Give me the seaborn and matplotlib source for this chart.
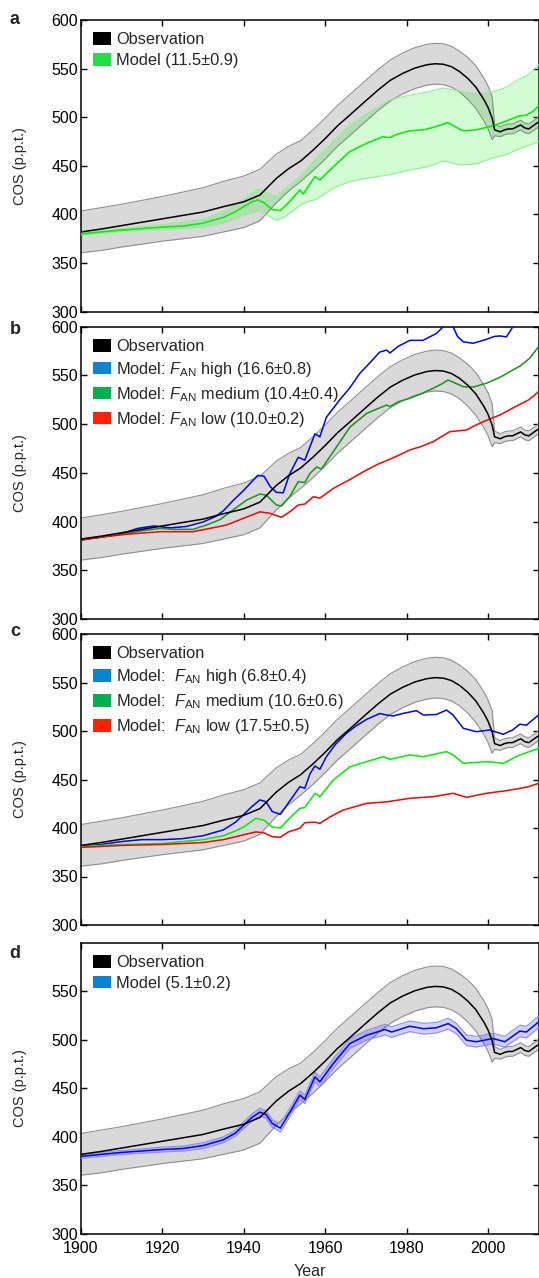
import numpy as np
import matplotlib
matplotlib.use('Agg')
import matplotlib.pyplot as plt
import seaborn as sns
from matplotlib.patches import Patch

# ---------------- data ----------------
xticks = [1900, 1920, 1940, 1960, 1980, 2000]
yticks_full = [300, 350, 400, 450, 500, 550, 600]
yticks_d = [300, 350, 400, 450, 500, 550]

# Observation (same in all panels), centre and half-width of grey band
obs_years = [1900, 1905, 1910, 1915, 1920, 1925, 1930, 1935, 1940, 1944,
             1948, 1951, 1954, 1957, 1960, 1963, 1966, 1970, 1973, 1976,
             1979, 1982, 1985, 1987, 1989, 1991, 1993, 1995, 1997, 1999,
             2000, 2001, 2001.6, 2003, 2004, 2005, 2006, 2007, 2008, 2009,
             2010, 2011, 2012, 2013]
obs_val = [382, 385, 388.5, 392, 395.5, 399, 402.5, 408, 413, 420,
           437, 447, 455, 466, 478, 491, 502, 517, 528, 538,
           545, 550.5, 554, 555, 554.5, 552, 547, 540, 531, 518,
           510, 499, 487, 485, 487, 488, 488, 490, 492, 489,
           488, 491, 494, 496]
obs_err = [21.5, 22, 22, 22.5, 23, 24, 25, 26, 26.5, 26.5,
           25, 23, 21, 21, 21, 21, 21, 21, 21, 21,
           21, 21, 21, 21, 21, 21, 21, 21.5, 22, 22,
           22, 22, 6, 5, 5, 5, 5, 5, 5, 5,
           5, 5, 5, 5]

# Panel a: model
a_years = [1900, 1910, 1920, 1925, 1930, 1935, 1938, 1940, 1942, 1943.5,
           1945, 1947, 1949, 1951, 1953.8, 1954.6, 1957.5, 1958.7, 1962, 1966,
           1970.1, 1974.2, 1975.8, 1978, 1980.7, 1984, 1986.5, 1990.1, 1992, 1993.8,
           1997, 2001.1, 2004.4, 2007.6, 2009.3, 2011, 2012.4]
a_model = [380, 384, 387, 388, 391, 397, 403, 408, 413, 415,
           412, 405, 404, 412, 425.2, 421, 439, 435.5, 449, 464.6,
           473, 480, 479, 483, 486, 487, 489.5, 494.5, 490, 486,
           487, 491, 496, 501.3, 502, 506, 511.6]
a_band_years = [1900, 1910, 1920, 1930, 1935, 1940, 1943.5, 1945, 1948, 1950,
                1954, 1955, 1958, 1962, 1966, 1970, 1976, 1980, 1985, 1989,
                1993, 1997, 2001, 2004, 2008, 2010, 2012.5]
a_band_hi = [381, 385.5, 389.5, 395, 403, 416, 426, 424, 418, 425,
             440, 444, 459, 475, 492, 503, 518, 522, 526, 530,
             527, 524, 526, 530, 540, 544, 554]
a_band_lo = [379, 382.5, 384.5, 387, 391, 399, 404, 401, 394, 397,
             410, 412, 416, 427, 434, 437, 441, 445, 449, 455,
             451, 452, 458, 461, 468, 471, 475]

# Panel b
b_high_years = [1900, 1905, 1910, 1914, 1918, 1922, 1926, 1930, 1933, 1935,
                1937.5, 1940, 1942, 1943.5, 1945, 1946.5, 1948, 1949.7, 1951.3, 1953.4,
                1955, 1957.5, 1958.7, 1960.3, 1963.6, 1966, 1968.5, 1971, 1973.4, 1975.1,
                1975.9, 1978, 1980.8, 1984, 1987.3, 1989, 1990.2, 1991.5, 1992.5, 1993.9,
                1996.3, 1998, 1999.6, 2001.5, 2002.9, 2004.5, 2006.1, 2008, 2010, 2012.4]
b_high = [381, 384, 387.5, 393, 395.5, 393.5, 395, 399.5, 405, 411,
          422, 432, 441, 447.5, 446.5, 436, 430, 429.5, 449, 466,
          463, 490, 487, 507, 525, 537, 552, 563, 574, 576,
          573, 580, 586, 586, 593, 600, 603, 599, 590, 584.5,
          583, 585, 587, 590, 590.5, 589.5, 600, 608, 615, 622]
b_med_years = [1900, 1905, 1910, 1915, 1919.5, 1923, 1927.6, 1930.9, 1934.2, 1937.4,
               1940.7, 1944, 1945.6, 1948, 1949.3, 1951.3, 1953.4, 1955, 1956.3, 1957.9,
               1959.1, 1962, 1966.1, 1970.2, 1973, 1975.1, 1975.9, 1978, 1980.8, 1983.5,
               1986.5, 1988.5, 1990.2, 1992, 1993.9, 1996.3, 1999.6, 2002.9, 2006.1, 2008,
               2010.2, 2012.4]
b_med = [382, 384, 387, 390.5, 393, 392, 392, 396.5, 402, 412,
         422, 428.3, 427, 417, 416, 425.5, 441, 440, 449.5, 456,
         454, 471.7, 497, 511, 516, 519.6, 518, 523, 526.5, 531,
         536.8, 541, 545.3, 542, 538.4, 538, 542, 548, 555.6, 560,
         567.6, 579.5]
b_low_years = [1900, 1905, 1911.3, 1919.5, 1927.6, 1931.7, 1935.8, 1940, 1944, 1946.4,
               1949.3, 1951.3, 1953.4, 1955, 1957.1, 1958.7, 1962, 1966, 1970.2, 1973,
               1975.9, 1978, 1980.8, 1983.5, 1986.5, 1988.5, 1990.6, 1994.7, 1996.5, 1998.8,
               2002.9, 2007, 2010, 2012.4]
b_low = [381, 384, 387, 389.6, 389.6, 393, 396.5, 403.4, 410, 408.5,
         404.4, 410, 417, 418, 425.5, 424, 434, 443, 453, 459,
         464, 468, 473.5, 477, 482, 487, 492.3, 494, 498, 502.5,
         509.4, 518.6, 525, 533.3]

# Panel c
c_high_years = [1900, 1905, 1910, 1915, 1920, 1925, 1930, 1935, 1938, 1940,
                1942, 1944, 1945.5, 1947, 1949, 1951, 1953.8, 1955, 1956.3, 1957.5,
                1958.7, 1960.3, 1962.5, 1965.2, 1967.5, 1970.2, 1973.4, 1975.1, 1976.7, 1979,
                1982.4, 1984.1, 1987.3, 1989.8, 1991.4, 1993.9, 1997.1, 2000.4, 2003.7, 2006,
                2007.8, 2009.4, 2012.4]
c_high = [381, 383, 386, 388, 388, 389, 392, 398, 406, 414,
          422, 429, 427, 417, 414, 426, 442.6, 441, 456, 464,
          460.5, 473.5, 486, 497.6, 505, 512, 518, 516.5, 515.5, 518,
          521, 516.5, 517, 521.6, 516.5, 502.8, 499.3, 501, 496.6, 501,
          507, 506, 516.5]
c_med_years = [1900, 1910, 1920, 1930, 1935, 1938, 1940, 1943, 1945, 1947,
               1949, 1951, 1953.8, 1955, 1957.5, 1958.7, 1962, 1966.1, 1970.2, 1974.2,
               1975.9, 1980.8, 1984, 1989.8, 1991.5, 1993.9, 1999.6, 2003.7, 2007.8, 2012.4]
c_med = [381, 383, 384, 388, 392, 397, 401, 410, 408, 401,
         400, 409, 420.3, 421, 435.8, 432.3, 449.5, 463.2, 468.4, 473.5,
         470.8, 475.3, 473.5, 478.7, 475, 466.7, 468.4, 466.7, 475.3, 482]
c_low_years = [1900, 1910, 1920, 1930, 1935, 1940, 1943, 1945, 1947, 1949,
               1951, 1953.8, 1955, 1957.5, 1958.7, 1961, 1964.4, 1970.2, 1975.1, 1980.8,
               1986.5, 1991.4, 1994.7, 1999.6, 2004.5, 2009.4, 2012.4]
c_low = [380, 382, 383, 385, 388, 393, 396, 395, 391, 390.5,
         396, 399.7, 405.5, 406, 404.8, 411, 418.5, 425.4, 427, 430.6,
         432.3, 435.8, 431.6, 435.8, 438.5, 442, 446]

# Panel d
d_years = [1900, 1910, 1920, 1925, 1930, 1935, 1938, 1940, 1942, 1944,
           1945.5, 1947, 1949, 1951, 1953.8, 1955, 1957.5, 1958.7, 1962, 1966.1,
           1970.2, 1974.7, 1976.3, 1980.8, 1984.1, 1987.3, 1990.2, 1992.2, 1994.7, 1997.1,
           2001.2, 2004.1, 2007.8, 2009.4, 2012.4]
d_model = [380, 384, 387, 388, 391, 397, 404, 412, 420, 425.5,
           423, 414, 409, 423, 443, 438.6, 461.8, 456.7, 475.6, 496.2,
           504.7, 510.6, 508, 514, 511.4, 512.4, 516.7, 511.6, 499.6, 498,
           501.3, 498, 509, 508, 518.4]
d_err = [2, 2, 2.5, 2.5, 3, 3, 3, 3.5, 3.5, 4,
         4, 4, 4, 4.5, 4.5, 4.5, 5, 5, 5, 5,
         5, 5.5, 5.5, 5.5, 5.5, 5.5, 5.5, 5.5, 5.5, 5.5,
         5.5, 5.5, 6, 6, 6]

labels_a = ["Observation", "Model (11.5\u00b10.9)"]
labels_b = ["Observation",
            r"Model: $F_{\mathrm{AN}}$ high (16.6" + "\u00b1" + "0.8)",
            r"Model: $F_{\mathrm{AN}}$ medium (10.4" + "\u00b1" + "0.4)",
            r"Model: $F_{\mathrm{AN}}$ low (10.0" + "\u00b1" + "0.2)"]
labels_c = ["Observation",
            r"Model:  $F_{\mathrm{AN}}$ high (6.8" + "\u00b1" + "0.4)",
            r"Model:  $F_{\mathrm{AN}}$ medium (10.6" + "\u00b1" + "0.6)",
            r"Model:  $F_{\mathrm{AN}}$ low (17.5" + "\u00b1" + "0.5)"]
labels_d = ["Observation", "Model (5.1\u00b10.2)"]

# ---------------- styling ----------------
sns.set_style('ticks')
plt.rcParams['font.family'] = ['Liberation Sans', 'DejaVu Sans']
plt.rcParams['mathtext.fontset'] = 'custom'
plt.rcParams['mathtext.rm'] = 'Liberation Sans'
plt.rcParams['mathtext.it'] = 'Liberation Sans:italic'
plt.rcParams['mathtext.bf'] = 'Liberation Sans:bold'

W, H = 539, 1278
fig = plt.figure(figsize=(W / 100, H / 100), dpi=100)

left = 80.7 / W
width = 1.0 - left
panel_px = [(20, 311.7), (326.7, 619), (634, 925), (942.7, 1234)]
axes = []
for top, bot in panel_px:
    axes.append(fig.add_axes([left, 1 - bot / H, width, (bot - top) / H]))

LW = 1.1
TICK_FS = 11.5
LEG_FS = 11.8


def base_style(ax, yt, show_x):
    ax.set_xlim(1900, 2012.5)
    ax.set_ylim(300, 600)
    ax.set_xticks(xticks)
    ax.set_yticks(yt)
    ax.tick_params(direction='in', top=True, right=True, length=4, width=1.0,
                   labelsize=TICK_FS, colors='black')
    ax.tick_params(axis='y', pad=2)
    ax.tick_params(axis='x', pad=5)
    if not show_x:
        ax.set_xticklabels([])
        ax.set_xlabel('')
    for s in ax.spines.values():
        s.set_linewidth(1.1)
        s.set_color('black')
    ax.set_ylabel('COS (p.p.t.)', fontsize=10.5, labelpad=0)
    ax.yaxis.set_label_coords(-0.118, 0.5)


def draw_obs(ax):
    o = np.array(obs_val, dtype=float)
    e = np.array(obs_err, dtype=float)
    ax.fill_between(obs_years, o - e, o + e, color='#d9d9d9', lw=0, zorder=1)
    sns.lineplot(x=obs_years, y=o - e, ax=ax, color='#8f8f8f', lw=0.8,
                 estimator=None, sort=False, zorder=2)
    sns.lineplot(x=obs_years, y=o + e, ax=ax, color='#8f8f8f', lw=0.8,
                 estimator=None, sort=False, zorder=2)
    sns.lineplot(x=obs_years, y=o, ax=ax, color='black', lw=LW,
                 estimator=None, sort=False, zorder=6)


def add_legend(ax, colors, labels):
    handles = [Patch(facecolor=c, edgecolor='none') for c in colors]
    ax.legend(handles, labels, loc='upper left', frameon=False,
              fontsize=LEG_FS, handlelength=1.1, handleheight=0.8,
              handletextpad=0.3, labelspacing=0.36, borderaxespad=0.45,
              borderpad=0.3)


def panel_letter(letter, ypx):
    fig.text(15 / W, 1 - ypx / H, letter, ha='center', va='center',
             fontsize=13, fontweight='bold')


# ---- panel a ----
ax = axes[0]
draw_obs(ax)
ax.fill_between(a_band_years, a_band_lo, a_band_hi, color='#00ee00', alpha=0.17,
                lw=0, zorder=3)
sns.lineplot(x=a_band_years, y=a_band_lo, ax=ax, color='#8ef08e', lw=0.8,
             estimator=None, sort=False, zorder=3)
sns.lineplot(x=a_band_years, y=a_band_hi, ax=ax, color='#8ef08e', lw=0.8,
             estimator=None, sort=False, zorder=3)
sns.lineplot(x=a_years, y=a_model, ax=ax, color='#00ee00', lw=LW,
             estimator=None, sort=False, zorder=5)
base_style(ax, yticks_full, False)
add_legend(ax, ['black', '#22dd44'], labels_a)
panel_letter('a', 20)

# ---- panel b ----
ax = axes[1]
draw_obs(ax)
sns.lineplot(x=b_high_years, y=b_high, ax=ax, color='#0000ff', lw=LW,
             estimator=None, sort=False, zorder=5)
sns.lineplot(x=b_med_years, y=b_med, ax=ax, color='#159615', lw=LW,
             estimator=None, sort=False, zorder=5)
sns.lineplot(x=b_low_years, y=b_low, ax=ax, color='#ff0000', lw=LW,
             estimator=None, sort=False, zorder=5)
base_style(ax, yticks_full, False)
add_legend(ax, ['black', '#0a84d0', '#00b050', '#ff2200'], labels_b)
panel_letter('b', 330)

# ---- panel c ----
ax = axes[2]
draw_obs(ax)
sns.lineplot(x=c_high_years, y=c_high, ax=ax, color='#0000ff', lw=LW,
             estimator=None, sort=False, zorder=5)
sns.lineplot(x=c_med_years, y=c_med, ax=ax, color='#00ee00', lw=LW,
             estimator=None, sort=False, zorder=5)
sns.lineplot(x=c_low_years, y=c_low, ax=ax, color='#ff0000', lw=LW,
             estimator=None, sort=False, zorder=5)
base_style(ax, yticks_full, False)
add_legend(ax, ['black', '#0a84d0', '#00b050', '#ff2200'], labels_c)
panel_letter('c', 632)

# ---- panel d ----
ax = axes[3]
draw_obs(ax)
dm = np.array(d_model, dtype=float)
de = np.array(d_err, dtype=float)
ax.fill_between(d_years, dm - de, dm + de, color='#0000ff', alpha=0.18, lw=0, zorder=3)
sns.lineplot(x=d_years, y=dm - de, ax=ax, color='#8c8cff', lw=0.8,
             estimator=None, sort=False, zorder=3)
sns.lineplot(x=d_years, y=dm + de, ax=ax, color='#8c8cff', lw=0.8,
             estimator=None, sort=False, zorder=3)
sns.lineplot(x=d_years, y=dm, ax=ax, color='#0000ff', lw=LW,
             estimator=None, sort=False, zorder=5)
base_style(ax, yticks_d, True)
ax.set_xlabel('Year', fontsize=11.5, labelpad=6)
add_legend(ax, ['black', '#0a84d0'], labels_d)
panel_letter('d', 953)

fig.savefig('out.png', dpi=100)
